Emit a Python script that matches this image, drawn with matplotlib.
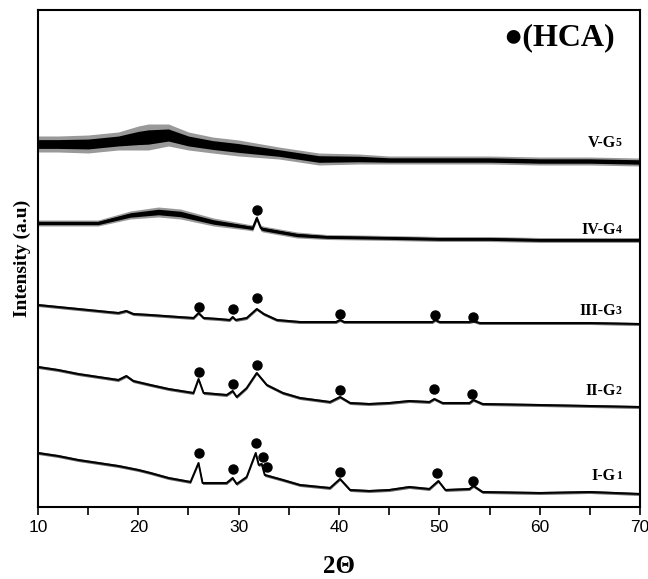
import matplotlib
matplotlib.use("Agg")
import matplotlib.pyplot as plt
import numpy as np
from matplotlib.ticker import MultipleLocator

# XRD patterns, intensity in arbitrary units (stacked offsets), noise half-width
g5_x = [10, 12, 15, 18, 20, 21, 23, 25, 27.4, 30, 34, 38, 42, 45, 50, 55, 60, 65, 70]
g5_y = [363, 363, 363, 366, 369, 370, 372, 366, 362, 359, 354, 348, 348, 347, 347, 347, 346, 346, 345]
g5_noise = [8, 8, 9, 9, 12, 13, 11, 9, 8, 8, 6, 6, 5, 4, 4, 4, 4, 4, 4]

g4_x = [10, 13, 16, 19.2, 22, 24.2, 27.5, 30.8, 31.4, 31.8, 32.2, 32.4, 35.8, 38.8, 45, 50, 55, 60, 65, 70]
g4_y = [284, 284, 284, 292, 295, 293, 285, 280, 279, 289, 279, 278, 272, 270, 269, 268, 268, 267, 267, 267]
g4_noise = [3, 3, 3, 4, 5, 5, 4, 3, 3, 3, 3, 3, 3, 2.5, 2.5, 2.5, 2.5, 2.5, 2.5, 2.5]

g3_x = [10, 14, 18, 18.8, 19.5, 21.2, 24, 25.5, 26, 26.5, 28, 29.1, 29.4, 29.7, 30.8, 31.8,
        32.5, 33.8, 36.1, 38, 39.7, 40.1, 40.5, 45, 49.3, 49.6, 50, 53, 53.4, 54, 60, 65, 70]
g3_y = [202, 198, 194, 196, 193, 192, 190, 189, 194, 189, 188, 187, 190, 187, 189, 198,
        193, 187, 185, 185, 185, 187, 185, 185, 185, 187, 185, 185, 186, 184, 184, 184, 183]

g2_x = [10, 12, 14, 16, 18, 18.8, 19.5, 21.2, 23, 25.5, 26, 26.5, 28.8, 29.4, 29.8, 30.8, 31.8,
        32.8, 34.4, 36.1, 39.1, 40.1, 41.1, 43, 45, 47, 49, 49.5, 50.3, 53, 53.4, 54.3, 60, 65, 70]
g2_y = [140, 137, 133, 130, 127, 131, 126, 122, 118, 114, 128, 114, 112, 116, 110, 119, 134,
        122, 114, 109, 105, 110, 104, 103, 104, 106, 105, 108, 104, 104, 107, 103, 102, 101, 100]

g1_x = [10, 12, 14, 16, 18, 20, 21.2, 23, 25.2, 26, 26.4, 28.8, 29.4, 29.8, 30.8, 31.7, 32.0,
        32.3, 32.6, 34.4, 36.1, 39.1, 40.1, 41.1, 43, 45, 47, 49, 49.9, 50.6, 53, 53.4, 54.3, 60, 65, 70]
g1_y = [54, 51, 47, 44, 41, 37, 34, 29, 25, 44, 24, 24, 29, 23, 30, 54, 42,
        43, 32, 27, 22, 19, 28, 17, 16, 17, 20, 18, 26, 17, 18, 21, 15, 14, 15, 13]

# HCA peak markers (2theta, intensity)
hca_x = [31.8,
         26.0, 29.4, 31.8, 40.1, 49.6, 53.4,
         26.0, 29.4, 31.8, 40.1, 49.5, 53.3,
         26.0, 29.4, 31.7, 32.4, 32.8, 40.1, 49.8, 53.4]
hca_y = [297,
         200, 198, 209, 193, 192, 190,
         135, 123, 142, 117, 118, 113,
         54, 38, 64, 50, 40, 35, 34, 26]

curves = [
    (g5_x, g5_y, g5_noise, "V-G", "5", 364),
    (g4_x, g4_y, g4_noise, "IV-G", "4", 277),
    (g3_x, g3_y, None, "III-G", "3", 196),
    (g2_x, g2_y, None, "II-G", "2", 116),
    (g1_x, g1_y, None, "I-G", "1", 31),
]

fig = plt.figure(figsize=(6.48, 5.79), dpi=100)
ax = fig.add_axes([0.0586, 0.1244, 0.9291, 0.8583])

for x, y, noise, name, sub, label_y in curves:
    x = np.array(x, dtype=float)
    y = np.array(y, dtype=float)
    if noise is not None:
        n = np.array(noise, dtype=float)
        # spiky outer edge drawn lighter, dense core solid
        ax.fill_between(x, y - n, y + n, color="black", alpha=0.4, lw=0)
        ax.fill_between(x, y - 0.55 * n, y + 0.55 * n, color="black", lw=0)
    else:
        ax.fill_between(x, y - 1.5, y + 1.5, color="black", alpha=0.6, lw=0)
    ax.plot(x, y, color="black", lw=1.4)
    t = ax.text(67.6, label_y, name, ha="right", va="center",
                fontfamily="Liberation Serif", fontweight="bold", fontsize=11.5)
    ax.annotate(sub, xy=(1, 0.12), xycoords=t, va="bottom", ha="left",
                fontfamily="Liberation Serif", fontweight="bold", fontsize=8.5)

ax.plot(hca_x, hca_y, "o", color="black", markersize=6.5, linestyle="none")

ax.text(0.865, 0.944, "\u25cf(HCA)", transform=ax.transAxes, ha="center", va="center",
        fontfamily="Liberation Serif", fontweight="bold", fontsize=23)

ax.set_xlim(10, 70)
ax.set_ylim(0, 497)
ax.xaxis.set_major_locator(MultipleLocator(10))
ax.xaxis.set_minor_locator(MultipleLocator(5))
ax.tick_params(axis="x", which="both", direction="out", length=6, width=1.2, labelsize=12.5)
ax.set_yticks([])
for lab in ax.get_xticklabels():
    lab.set_fontfamily("Liberation Sans")
for s in ax.spines.values():
    s.set_linewidth(1.5)

ax.set_xlabel("2\u0398", fontfamily="Liberation Serif", fontweight="bold", fontsize=18, labelpad=14)
ax.set_ylabel("Intensity (a.u)", fontfamily="Liberation Serif", fontweight="bold", fontsize=14, labelpad=5)

fig.savefig("out.png", dpi=100)
